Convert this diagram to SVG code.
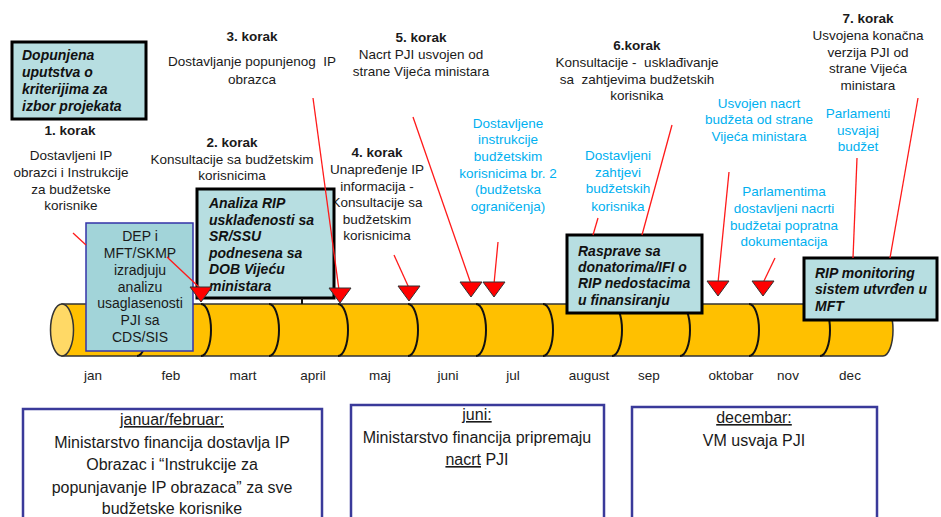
<svg xmlns="http://www.w3.org/2000/svg" width="941" height="517" viewBox="0 0 941 517">
<defs>
<style>
text{font-family:"Liberation Sans",Arial,sans-serif;fill:#1a1a1a}
.t{font-size:13.5px;text-anchor:middle}
.h{font-size:13.5px;font-weight:bold;text-anchor:middle}
.b{font-size:13.5px;text-anchor:middle;fill:#00B0F0}
.m{font-size:13.5px;text-anchor:middle;fill:#222}
.bi{font-size:14px;font-weight:bold;font-style:italic;fill:#111}
.dep{font-size:14px;text-anchor:middle}
.bt{font-size:16px;text-anchor:middle}
.u{text-decoration:underline}
.box{fill:#B7DEE1;stroke:#000;stroke-width:3}
.dbox{fill:#A2D4D9;stroke:#3333A8;stroke-width:1.5}
.pbox{fill:#fff;stroke:#3A3A9A;stroke-width:2.5}
.seg{fill:none;stroke:#111;stroke-width:2}
.tri{fill:#FF0000;stroke:#333;stroke-width:1}
.ln{stroke:#FF1A1A;stroke-width:1.3;fill:none}
</style>
</defs>
<rect width="941" height="517" fill="#fff"/>

<g id="timeline">
<path d="M62 304 L883 304 A10 26 0 0 1 883 356 L62 356 Z" fill="#FFC000" stroke="#333" stroke-width="1.5"/>
<ellipse cx="62" cy="330" rx="11.5" ry="26" fill="#FFD966" stroke="#333" stroke-width="1.5"/>
<path class="seg" d="M137 304 A10 26 0 0 1 137 356 M201 304 A10 26 0 0 1 201 356 M269 304 A10 26 0 0 1 269 356 M338 304 A10 26 0 0 1 338 356 M408 304 A10 26 0 0 1 408 356 M476 304 A10 26 0 0 1 476 356 M543 304 A10 26 0 0 1 543 356 M612 304 A10 26 0 0 1 612 356 M680 304 A10 26 0 0 1 680 356 M749 304 A10 26 0 0 1 749 356 M820 304 A10 26 0 0 1 820 356"/>
<text class="m" x="93" y="380">jan</text>
<text class="m" x="171" y="380">feb</text>
<text class="m" x="243" y="380">mart</text>
<text class="m" x="313" y="380">april</text>
<text class="m" x="380" y="380">maj</text>
<text class="m" x="448" y="380">juni</text>
<text class="m" x="513" y="380">jul</text>
<text class="m" x="589" y="380">august</text>
<text class="m" x="649" y="380">sep</text>
<text class="m" x="731" y="380">oktobar</text>
<text class="m" x="788" y="380">nov</text>
<text class="m" x="850" y="380">dec</text>
</g>

<g id="step1">
<text class="h" x="70" y="135">1. korak</text>
<text class="t" x="71" y="160">Dostavljeni IP</text>
<text class="t" x="71" y="177">obrazci i Instrukcije</text>
<text class="t" x="71" y="194">za budžetske</text>
<text class="t" x="71" y="210">korisnike</text>
</g>
<g id="step2">
<text class="h" x="232" y="147">2. korak</text>
<text class="t" x="232" y="164">Konsultacije sa budžetskim</text>
<text class="t" x="232" y="180">korisnicima</text>
</g>
<g id="step3">
<text class="h" x="252" y="41">3. korak</text>
<text class="t" x="252" y="66">Dostavljanje popunjenog &#160;IP</text>
<text class="t" x="252" y="84">obrazca</text>
</g>
<g id="step4">
<text class="h" x="377" y="157">4. korak</text>
<text class="t" x="377" y="174">Unapređenje IP</text>
<text class="t" x="377" y="191">informacija -</text>
<text class="t" x="377" y="207">Konsultacije sa</text>
<text class="t" x="377" y="224">budžetskim</text>
<text class="t" x="377" y="240">korisnicima</text>
</g>
<g id="step5">
<text class="h" x="421" y="42">5. korak</text>
<text class="t" x="421" y="59">Nacrt PJI usvojen od</text>
<text class="t" x="421" y="76">strane Vijeća ministara</text>
</g>
<g id="step6">
<text class="h" x="637" y="50">6.korak</text>
<text class="t" x="637" y="67">Konsultacije - &#160;usklađivanje</text>
<text class="t" x="637" y="84">sa &#160;zahtjevima budžetskih</text>
<text class="t" x="637" y="100">korisnika</text>
</g>
<g id="step7">
<text class="h" x="868" y="23">7. korak</text>
<text class="t" x="868" y="40">Usvojena konačna</text>
<text class="t" x="868" y="57">verzija PJI od</text>
<text class="t" x="868" y="73">strane Vijeća</text>
<text class="t" x="868" y="90">ministara</text>
</g>

<g id="note-instrukcije">
<text class="b" x="508" y="128">Dostavljene</text>
<text class="b" x="508" y="144">instrukcije</text>
<text class="b" x="508" y="161">budžetskim</text>
<text class="b" x="508" y="178">korisnicima br. 2</text>
<text class="b" x="508" y="194">(budžetska</text>
<text class="b" x="508" y="211">ograničenja)</text>
</g>
<g id="note-zahtjevi">
<text class="b" x="618" y="160">Dostavljeni</text>
<text class="b" x="618" y="177">zahtjevi</text>
<text class="b" x="618" y="193">budžetskih</text>
<text class="b" x="618" y="211">korisnika</text>
</g>
<g id="note-usvojen">
<text class="b" x="759" y="108">Usvojen nacrt</text>
<text class="b" x="759" y="124">budžeta od strane</text>
<text class="b" x="759" y="141">Vijeća ministara</text>
</g>
<g id="note-parlamenti">
<text class="b" x="858" y="118">Parlamenti</text>
<text class="b" x="858" y="135">usvajaj</text>
<text class="b" x="858" y="151">budžet</text>
</g>
<g id="note-parlamentima">
<text class="b" x="784" y="196">Parlamentima</text>
<text class="b" x="784" y="213">dostavljeni nacrti</text>
<text class="b" x="784" y="230">budžetai popratna</text>
<text class="b" x="784" y="246">dokumentacija</text>
</g>

<g id="box-dopunjena">
<rect class="box" x="12" y="42" width="134" height="77"/>
<text class="bi" x="22" y="60">Dopunjena</text>
<text class="bi" x="22" y="77">uputstva o</text>
<text class="bi" x="22" y="94">kriterijima za</text>
<text class="bi" x="22" y="111">izbor projekata</text>
</g>
<g id="box-dep">
<rect class="dbox" x="86" y="223" width="107" height="128"/>
<text class="dep" x="140" y="241">DEP i</text>
<text class="dep" x="140" y="258">MFT/SKMP</text>
<text class="dep" x="140" y="275">izradjuju</text>
<text class="dep" x="140" y="292">analizu</text>
<text class="dep" x="140" y="308">usaglasenosti</text>
<text class="dep" x="140" y="325">PJI sa</text>
<text class="dep" x="140" y="342">CDS/SIS</text>
</g>
<g id="box-analiza">
<rect class="box" x="197" y="189" width="137" height="109"/>
<text class="bi" x="209" y="208">Analiza RIP</text>
<text class="bi" x="209" y="225">usklađenosti sa</text>
<text class="bi" x="209" y="241">SR/SSU</text>
<text class="bi" x="209" y="258">podnesena sa</text>
<text class="bi" x="209" y="274">DOB Vijeću</text>
<text class="bi" x="209" y="291">ministara</text>
</g>
<g id="box-rasprave">
<rect class="box" x="567" y="235" width="135" height="78"/>
<text class="bi" x="578" y="256">Rasprave sa</text>
<text class="bi" x="578" y="272">donatorima/IFI o</text>
<text class="bi" x="578" y="288">RIP nedostacima</text>
<text class="bi" x="578" y="305">u finansiranju</text>
</g>
<g id="box-monitoring">
<rect class="box" x="804" y="258" width="133" height="62"/>
<text class="bi" x="815" y="278">RIP monitoring</text>
<text class="bi" x="815" y="294">sistem utvrđen u</text>
<text class="bi" x="815" y="311">MFT</text>
</g>

<g id="connectors">
<line class="ln" x1="73" y1="233" x2="86" y2="245"/>
<line class="ln" x1="167" y1="257" x2="201" y2="289"/>
<line class="ln" x1="313" y1="98" x2="339" y2="290"/>
<line class="ln" x1="394" y1="255" x2="409" y2="288"/>
<line class="ln" x1="413" y1="117" x2="471" y2="284"/>
<line class="ln" x1="498" y1="242" x2="494" y2="284"/>
<line class="ln" x1="598" y1="218" x2="593" y2="235"/>
<line class="ln" x1="672" y1="125" x2="642" y2="235"/>
<line class="ln" x1="729" y1="172" x2="718" y2="283"/>
<line class="ln" x1="775" y1="258" x2="763" y2="283"/>
<line class="ln" x1="857" y1="158" x2="853" y2="258"/>
<line class="ln" x1="918" y1="98" x2="890" y2="258"/>
<line x1="302" y1="298" x2="302" y2="304" stroke="#111" stroke-width="2"/>
</g>

<g id="markers">
<polygon class="tri" points="190,287 212,287 201,302"/>
<polygon class="tri" points="329,288 351,288 340,303"/>
<polygon class="tri" points="398,286 420,286 409,301"/>
<polygon class="tri" points="460,282 482,282 471,297"/>
<polygon class="tri" points="483,282 505,282 494,297"/>
<polygon class="tri" points="707,281 729,281 718,296"/>
<polygon class="tri" points="752,281 774,281 763,296"/>
</g>

<g id="box-janfeb">
<rect class="pbox" x="23" y="409" width="299" height="125"/>
<text class="bt u" x="172" y="425">januar/februar:</text>
<text class="bt" x="172" y="448">Ministarstvo financija dostavlja IP</text>
<text class="bt" x="172" y="470">Obrazac i “Instrukcije za</text>
<text class="bt" x="172" y="493">popunjavanje IP obrazaca” za sve</text>
<text class="bt" x="172" y="514">budžetske korisnike</text>
</g>
<g id="box-juni">
<rect class="pbox" x="351" y="405" width="253" height="125"/>
<text class="bt u" x="477" y="420">juni:</text>
<text class="bt" x="477" y="443">Ministarstvo financija pripremaju</text>
<text class="bt" x="477" y="465"><tspan class="u">nacrt</tspan> PJI</text>
</g>
<g id="box-decembar">
<rect class="pbox" x="632" y="407" width="245" height="125"/>
<text class="bt u" x="754" y="423">decembar:</text>
<text class="bt" x="754" y="446">VM usvaja PJI</text>
</g>
</svg>
